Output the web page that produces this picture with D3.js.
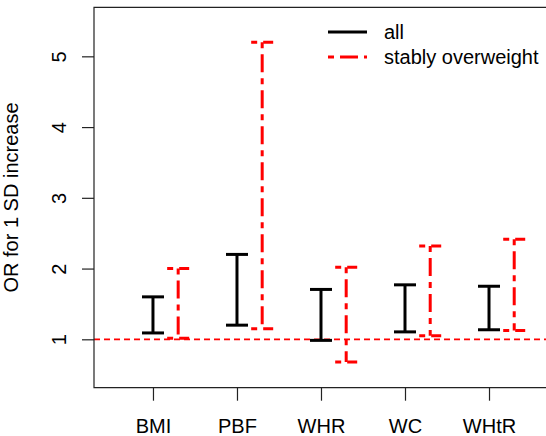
<!DOCTYPE html>
<html>
<head>
<meta charset="utf-8">
<script src="https://cdn.jsdelivr.net/npm/d3@7"></script>
<style>
  body { margin: 0; background: #fff; }
  svg text { font-family: "Liberation Sans", Arial, sans-serif; }
</style>
</head>
<body>
<div id="chart"></div>
<script>
var categories = ['BMI', 'PBF', 'WHR', 'WC', 'WHtR'];
var allLow = [1.09, 1.20, 0.985, 1.105, 1.135];
var allHigh = [1.60, 2.20, 1.705, 1.77, 1.75];
var stableLow = [1.015, 1.15, 0.68, 1.05, 1.125];
var stableHigh = [2.0, 5.2, 2.02, 2.32, 2.415];
var yTicks = [1, 2, 3, 4, 5];
var legendLabels = ['all', 'stably overweight'];

var W = 546, H = 436;
var m = { left: 94, right: 550, top: 7.3, bottom: 387.7 };
var fs = 20;

var svg = d3.select('#chart').append('svg')
  .attr('width', W)
  .attr('height', H);

var x = d3.scaleLinear().domain([0.298, 5.726]).range([m.left, m.right]);
var y = d3.scaleLinear().domain([0.316, 5.693]).range([m.bottom, m.top]);

var capW = 0.131;   // half width of the caps, x units
var offset = 0.3;   // shift of the red intervals

// reference line at OR = 1
svg.append('line')
  .attr('x1', m.left).attr('x2', W)
  .attr('y1', y(1)).attr('y2', y(1))
  .attr('stroke', '#ff0000')
  .attr('stroke-width', 1.7)
  .attr('stroke-dasharray', '6,4');

function drawBars(lo, hi, dx, color, dash) {
  var g = svg.append('g');
  var idx = d3.range(categories.length);
  g.selectAll('line.v').data(idx).enter().append('line')
    .attr('class', 'v')
    .attr('x1', function(i) { return x(i + 1 + dx); })
    .attr('x2', function(i) { return x(i + 1 + dx); })
    .attr('y1', function(i) { return y(hi[i]); })
    .attr('y2', function(i) { return y(lo[i]); });
  g.selectAll('line.top').data(idx).enter().append('line')
    .attr('class', 'top')
    .attr('x1', function(i) { return x(i + 1 + dx - capW); })
    .attr('x2', function(i) { return x(i + 1 + dx + capW); })
    .attr('y1', function(i) { return y(hi[i]); })
    .attr('y2', function(i) { return y(hi[i]); });
  g.selectAll('line.bot').data(idx).enter().append('line')
    .attr('class', 'bot')
    .attr('x1', function(i) { return x(i + 1 + dx - capW); })
    .attr('x2', function(i) { return x(i + 1 + dx + capW); })
    .attr('y1', function(i) { return y(lo[i]); })
    .attr('y2', function(i) { return y(lo[i]); });
  g.selectAll('line')
    .attr('stroke', color)
    .attr('stroke-width', 3)
    .attr('stroke-dasharray', dash);
}

drawBars(allLow, allHigh, 0, '#000', null);
drawBars(stableLow, stableHigh, offset, '#ff0000', '6,6,18,6');

// box
svg.append('path')
  .attr('d', 'M' + W + ',' + m.top + 'H' + m.left + 'V' + m.bottom + 'H' + W)
  .attr('fill', 'none')
  .attr('stroke', '#222')
  .attr('stroke-width', 1.2);

// y axis
var yAxis = svg.append('g')
  .attr('transform', 'translate(' + m.left + ',0)')
  .call(d3.axisLeft(y).tickValues(yTicks).tickSize(12).tickFormat(d3.format('d')));
yAxis.select('.domain').remove();
yAxis.selectAll('line').attr('stroke', '#222').attr('stroke-width', 1.2);
yAxis.selectAll('text')
  .attr('transform', 'rotate(-90)')
  .attr('x', 0).attr('y', -28).attr('dy', 0)
  .attr('text-anchor', 'middle')
  .attr('font-size', fs)
  .attr('fill', '#000');

// x axis
var xAxis = svg.append('g')
  .attr('transform', 'translate(0,' + m.bottom + ')')
  .call(d3.axisBottom(x).tickValues([1, 2, 3, 4, 5]).tickSize(13)
    .tickFormat(function(d) { return categories[d - 1]; }));
xAxis.select('.domain').remove();
xAxis.selectAll('line').attr('stroke', '#222').attr('stroke-width', 1.2);
xAxis.selectAll('text')
  .attr('y', 45).attr('dy', 0)
  .attr('font-size', fs)
  .attr('fill', '#000');

svg.append('text')
  .attr('transform', 'translate(18,' + ((m.top + m.bottom) / 2) + ') rotate(-90)')
  .attr('text-anchor', 'middle')
  .attr('font-size', fs)
  .text('OR for 1 SD increase');

// legend
var leg = svg.append('g');
var legColors = ['#000', '#ff0000'];
var legDash = [null, '6,6,18,6'];
legendLabels.forEach(function(lab, i) {
  var ly = 32 + i * 25;
  leg.append('line')
    .attr('x1', 328).attr('x2', 367)
    .attr('y1', ly).attr('y2', ly)
    .attr('stroke', legColors[i])
    .attr('stroke-width', 3)
    .attr('stroke-dasharray', legDash[i]);
  leg.append('text')
    .attr('x', 384).attr('y', ly + 7)
    .attr('font-size', fs)
    .text(lab);
});
</script>
</body>
</html>
